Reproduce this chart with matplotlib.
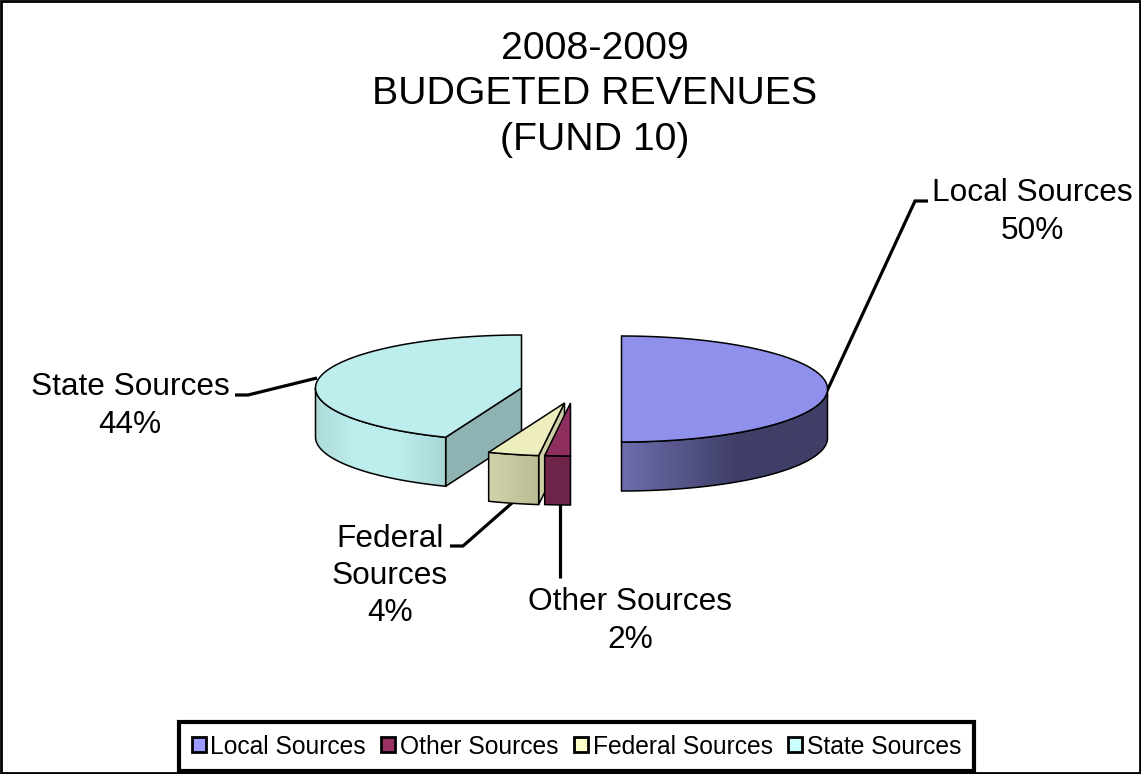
import matplotlib
matplotlib.use('Agg')
import matplotlib.pyplot as plt
from matplotlib.colors import LinearSegmentedColormap
from matplotlib.patches import Patch, Polygon, Rectangle
import numpy as np

plt.rcParams['font.family'] = ['Liberation Sans', 'DejaVu Sans']

# Budget shares, in the order they run clockwise from 12 o'clock
sources = ['Local Sources', 'Other Sources', 'Federal Sources', 'State Sources']
label_names = ['Local Sources', 'Other Sources', 'Federal\nSources', 'State Sources']
percents = [50, 2, 4, 44]

# Slice styling
top_colors = ['#8F8FEC', '#8F2F60', '#EDEDBD', '#BDEDED']
wall_colors = ['#6E6EAE', '#6E2449', '#CFCFA5', '#8FB3B3']
legend_colors = ['#9999FF', '#993366', '#FFFFCC', '#CCFFFF']
front_ramps = [
    [(0.0, '#6E6EAE'), (0.55, '#3F3F68'), (1.0, '#3F3F68')],
    [(0.0, '#6E2449'), (1.0, '#6E2449')],
    [(0.0, '#D2D2AB'), (1.0, '#BBBB94')],
    [(0.0, '#AEDADA'), (0.3, '#BDEDED'), (0.65, '#BDEDED'), (1.0, '#A8D4D4')],
]

# Pie geometry in pixels; each slice is pulled away from the centre on its own
apexes = [(621.5, 389), (570.5, 403), (564.5, 403), (521.5, 388)]
rx, ry, depth = 206, 53, 49

fig = plt.figure(figsize=(11.41, 7.74), dpi=100)
ax = fig.add_axes([0, 0, 1, 1])
ax.set_xlim(0, 1141)
ax.set_ylim(774, 0)
ax.axis('off')


def rim_point(apex, theta):
    return apex[0] + rx * np.sin(theta), apex[1] - ry * np.cos(theta)


def draw_slice(apex, start, end, top, wall, ramp):
    # Curved front wall, only where the rim faces the viewer
    lo, hi = max(start, np.pi / 2), min(end, 3 * np.pi / 2)
    if hi > lo:
        t = np.linspace(lo, hi, 120)
        x, y = rim_point(apex, t)
        outline = np.r_[np.c_[x, y], np.c_[x, y + depth][::-1]]
        cmap = LinearSegmentedColormap.from_list('front', ramp)
        grad = np.linspace(0, 1, 256).reshape(1, -1)
        poly = Polygon(outline, closed=True, fc='none', ec='black', lw=1.1, zorder=3)
        ax.add_patch(poly)
        img = ax.imshow(grad, cmap=cmap, aspect='auto', zorder=2,
                        extent=(x.min(), x.max(), y.max() + depth, y.min()))
        img.set_clip_path(poly)

    # Cut face on the right-hand side of the lower-left slices
    if start > np.pi:
        px, py = rim_point(apex, start)
        ax.add_patch(Polygon([apex, (px, py), (px, py + depth), (apex[0], apex[1] + depth)],
                             closed=True, fc=wall, ec='black', lw=1.1, zorder=1))

    t = np.linspace(start, end, 240)
    x, y = rim_point(apex, t)
    ax.add_patch(Polygon(np.r_[[apex], np.c_[x, y]], closed=True,
                         fc=top, ec='black', lw=1.1, zorder=4))


edges = np.r_[0, np.cumsum(percents)] / sum(percents) * 2 * np.pi
for i in range(len(percents)):
    draw_slice(apexes[i], edges[i], edges[i + 1], top_colors[i], wall_colors[i], front_ramps[i])
ax.set_xlim(0, 1141)
ax.set_ylim(774, 0)

# Leader lines
leaders = [
    [(827, 391), (915, 201), (928, 201)],
    [(560, 504), (560, 578)],
    [(512, 503), (463, 546), (450, 546)],
    [(317, 378), (248, 395), (235, 395)],
]
for line in leaders:
    xs, ys = zip(*line)
    ax.plot(xs, ys, color='black', lw=2.3, zorder=1.5, solid_capstyle='butt', solid_joinstyle='miter')

# Slice labels
label_pos = [(1032, 212), (630, 621), (390, 576), (130, 406)]
for name, pct, (lx, ly) in zip(label_names, percents, label_pos):
    ax.text(lx, ly, f'{name}\n{pct}%', ha='center', va='center', fontsize=22.8,
            linespacing=1.31, color='black', zorder=6)

ax.text(594.5, 94.5, '2008-2009\nBUDGETED REVENUES\n(FUND 10)', ha='center', va='center',
        fontsize=28.3, linespacing=1.35, color='black')

handles = [Patch(facecolor=c, edgecolor='black', linewidth=2) for c in legend_colors]
leg = ax.legend(handles, sources, ncol=4, loc='center', bbox_to_anchor=(576.5 / 1141, 1 - 746.5 / 774),
                fontsize=17.7, frameon=True, fancybox=False, framealpha=1, edgecolor='black',
                handlelength=0.57, handleheight=0.57, handletextpad=0.2, columnspacing=0.62,
                borderpad=0.52, borderaxespad=0, labelspacing=0)
leg.get_frame().set_linewidth(3)

# Chart area border
ax.add_patch(Rectangle((1, 1), 1139, 772, fc='none', ec='black', lw=2, zorder=7))

fig.savefig('out.png', dpi=100)
plt.close(fig)
